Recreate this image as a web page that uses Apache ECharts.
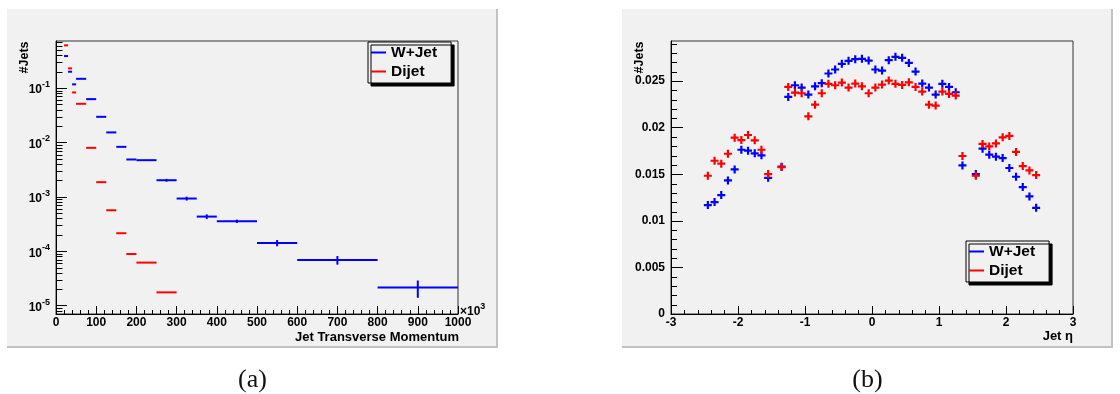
<!DOCTYPE html>
<html>
<head>
<meta charset="utf-8">
<script src="https://cdn.jsdelivr.net/npm/echarts@6/dist/echarts.min.js"></script>
<style>
html,body{margin:0;padding:0;background:#fff;}
#chart{width:1120px;height:394px;}
</style>
</head>
<body>
<div id="chart"></div>
<script>
// ---------- data ----------
const ptBinLow  = [20, 30, 40, 50, 75, 100, 125, 150, 175, 200, 250, 300, 350, 400, 500, 600, 800];
const ptBinHigh = [30, 40, 50, 75, 100, 125, 150, 175, 200, 250, 300, 350, 400, 500, 600, 800, 1000];
const wjetPt    = [0.388, 0.20, 0.117, 0.148, 0.0626, 0.0296, 0.0153, 0.0083, 0.00486, 0.00472, 0.00202,
                   0.00093, 0.000433, 0.000356, 0.000142, 0.000069, 0.0000214];
const wjetPtErr = [0, 0, 0, 0, 0, 0, 0, 0, 0, 0, 0.00012, 0.000075, 0.000043, 0.000025, 0.0000185, 0.0000125, 0.0000075];
const dijetPt    = [0.61, 0.23, 0.083, 0.0514, 0.00796, 0.00186, 0.000566, 0.000214, 0.0000887, 0.0000617, 0.0000175];
const dijetPtErr = [0, 0, 0, 0, 0, 0, 0, 0, 0, 0, 0];

const etaCenters = [-2.45,-2.35,-2.25,-2.15,-2.05,-1.95,-1.85,-1.75,-1.65,-1.55,
  -1.35,-1.25,-1.15,-1.05,-0.95,-0.85,-0.75,-0.65,-0.55,-0.45,-0.35,-0.25,-0.15,-0.05,
  0.05,0.15,0.25,0.35,0.45,0.55,0.65,0.75,0.85,0.95,1.05,1.15,1.25,1.35,
  1.55,1.65,1.75,1.85,1.95,2.05,2.15,2.25,2.35,2.45];
const wjetEta = [0.01169,0.01201,0.01276,0.01434,0.01552,0.01763,0.01753,0.01724,0.01703,0.01462,
  0.01581,0.0233,0.02455,0.0243,0.02355,0.02444,0.02477,0.02581,0.02624,0.02685,0.02717,0.02735,0.02739,0.0272,
  0.02624,0.02613,0.02724,0.0276,0.02749,0.02695,0.02602,0.02473,0.0243,0.02355,0.0247,0.02437,0.0238,0.01595,
  0.01502,0.01774,0.0171,0.01688,0.01674,0.01567,0.01473,0.01362,0.01262,0.0114];
const dijetEta = [0.01484,0.01645,0.01613,0.0172,0.01892,0.01867,0.01921,0.01864,0.01763,0.01502,
  0.01577,0.02437,0.02376,0.02369,0.02122,0.02247,0.02369,0.0247,0.02455,0.02484,0.0243,0.02473,0.02444,0.02369,
  0.0243,0.02462,0.02505,0.0247,0.02459,0.02487,0.02437,0.02387,0.02247,0.02237,0.02387,0.02362,0.02344,0.01696,
  0.01484,0.01825,0.01799,0.01831,0.01896,0.01911,0.01739,0.01588,0.01541,0.01491];

const seriesNames = ['W+Jet', 'Dijet'];
const ptTickValues = [0, 100, 200, 300, 400, 500, 600, 700, 800, 900, 1000];
const etaTickValues = [-3, -2, -1, 0, 1, 2, 3];

// ---------- style ----------
const FONT = '"Liberation Sans", Arial, Helvetica, sans-serif';
const BLUE = '#0000ff', RED = '#ff0000';
const PT_MIN = 7e-6, PT_MAX = 0.734;
const ETA_YMAX = 0.0293;

// log minor ticks (2..9 x 10^n)
const logMinor = [];
for (let n = -6; n <= 0; n++) for (let k = 2; k <= 9; k++) {
  const v = Number((k * Math.pow(10, n)).toPrecision(3));
  if (v > PT_MIN && v < PT_MAX) logMinor.push(v);
}
// linear minor ticks on right y axis
const etaYMinor = [];
for (let i = 1; i * 0.001 < ETA_YMAX; i++) if (i % 5 !== 0) etaYMinor.push(Number((i * 0.001).toFixed(3)));

function tickSeries(xi, yi, x0, values, len) {
  return {
    type: 'custom', xAxisIndex: xi, yAxisIndex: yi, silent: true, clip: false, z: 4,
    data: values.map(v => [x0, v]),
    renderItem: (p, api) => {
      const c = api.coord([api.value(0), api.value(1)]);
      const y = Math.round(c[1]) + 0.5;
      return { type: 'line', shape: { x1: c[0], y1: y, x2: c[0] + len, y2: y }, style: { stroke: '#000', lineWidth: 1 } };
    }
  };
}

function histSeries(name, color, vals, errs) {
  return {
    name, type: 'custom', xAxisIndex: 0, yAxisIndex: 0, clip: false, z: 3,
    itemStyle: { color },
    data: vals.map((v, i) => [ptBinLow[i], ptBinHigh[i], v, errs[i]]),
    encode: { x: [0, 1], y: 2 },
    renderItem: (p, api) => {
      const lo = api.value(0), hi = api.value(1), v = api.value(2), e = api.value(3);
      const a = api.coord([lo, v]), b = api.coord([hi, v]);
      const children = [{ type: 'line', shape: { x1: a[0], y1: a[1], x2: b[0], y2: b[1] }, style: { stroke: color, lineWidth: 2 } }];
      if (e > 0) {
        const c = (lo + hi) / 2;
        const t = api.coord([c, v + e]), d = api.coord([c, v - e]);
        children.push({ type: 'line', shape: { x1: t[0], y1: t[1], x2: d[0], y2: d[1] }, style: { stroke: color, lineWidth: 2 } });
      }
      return { type: 'group', children };
    }
  };
}

const PLUS = 'path://M0,2.9H2.9V0H5.1V2.9H8V5.1H5.1V8H2.9V5.1H0Z';
function etaSeries(name, color, vals) {
  return {
    name, type: 'scatter', xAxisIndex: 1, yAxisIndex: 1, z: 3,
    symbol: PLUS, symbolSize: 8, itemStyle: { color, opacity: 1 },
    data: etaCenters.map((x, i) => [x, vals[i]])
  };
}

const labelStyle = { fontFamily: FONT, fontWeight: 'bold', fontSize: 12, color: '#000' };
const axisCommon = {
  axisLine: { onZero: false, lineStyle: { color: '#000', width: 1 } },
  splitLine: { show: false }
};

const legendCommon = {
  orient: 'vertical', data: seriesNames, icon: 'rect', itemWidth: 15, itemHeight: 2, itemGap: 2,
  padding: [2, 14, 3, 3], backgroundColor: '#f1f1f1', borderColor: '#000', borderWidth: 1,
  shadowColor: '#000', shadowOffsetX: 3, shadowOffsetY: 3, shadowBlur: 0, selectedMode: false,
  textStyle: { fontFamily: FONT, fontWeight: 'bold', fontSize: 15.5, color: '#000', lineHeight: 17 }
};

const option = {
  animation: false,
  backgroundColor: '#fff',
  grid: [
    { left: 56, top: 41, width: 402, height: 273, show: true, borderColor: '#333', borderWidth: 1, backgroundColor: 'transparent' },
    { left: 671, top: 41, width: 402, height: 273, show: true, borderColor: '#333', borderWidth: 1, backgroundColor: 'transparent' }
  ],
  xAxis: [
    Object.assign({}, axisCommon, {
      gridIndex: 0, type: 'value', min: ptTickValues[0], max: ptTickValues[ptTickValues.length - 1], interval: 100,
      axisTick: { inside: true, length: 8, lineStyle: { color: '#000' } },
      minorTick: { show: true, splitNumber: 5, length: 4, lineStyle: { color: '#000' } },
      axisLabel: Object.assign({ margin: 3, formatter: v => String(v) }, labelStyle)
    }),
    Object.assign({}, axisCommon, {
      gridIndex: 1, type: 'value', min: etaTickValues[0], max: etaTickValues[etaTickValues.length - 1], interval: 1,
      axisTick: { inside: true, length: 8, lineStyle: { color: '#000' } },
      minorTick: { show: true, splitNumber: 5, length: 4, lineStyle: { color: '#000' } },
      axisLabel: Object.assign({ margin: 3, formatter: v => String(v) }, labelStyle)
    })
  ],
  yAxis: [
    Object.assign({}, axisCommon, {
      gridIndex: 0, type: 'log', logBase: 10, min: PT_MIN, max: PT_MAX,
      axisTick: { inside: true, length: 11, lineStyle: { color: '#000' } },
      minorTick: { show: false },
      axisLabel: {
        margin: 6, showMinLabel: false, showMaxLabel: false,
        formatter: v => '{b|10}{s|' + Math.round(Math.log10(v)) + '}',
        rich: {
          b: { fontFamily: FONT, fontWeight: 'bold', fontSize: 12, color: '#000', lineHeight: 16, verticalAlign: 'bottom' },
          s: { fontFamily: FONT, fontWeight: 'bold', fontSize: 9, color: '#000', lineHeight: 10, verticalAlign: 'top' }
        }
      }
    }),
    Object.assign({}, axisCommon, {
      gridIndex: 1, type: 'value', min: 0, max: ETA_YMAX, interval: 0.005,
      axisTick: { inside: true, length: 12, lineStyle: { color: '#000' } },
      minorTick: { show: false },
      axisLabel: Object.assign({
        margin: 6, showMaxLabel: false,
        formatter: v => v === 0 ? '0' : String(Number(v.toFixed(3)))
      }, labelStyle)
    })
  ],
  legend: [
    Object.assign({}, legendCommon, { left: 368, top: 42 }),
    Object.assign({}, legendCommon, { left: 966, top: 241 })
  ],
  series: [
    tickSeries(0, 0, 0, logMinor, 6.5),
    tickSeries(1, 1, -3, etaYMinor, 6),
    histSeries(seriesNames[0], BLUE, wjetPt, wjetPtErr),
    histSeries(seriesNames[1], RED, dijetPt, dijetPtErr),
    etaSeries(seriesNames[0], BLUE, wjetEta),
    etaSeries(seriesNames[1], RED, dijetEta)
  ],
  graphic: [
    { type: 'rect', z: -10, shape: { x: 7, y: 9, width: 491, height: 339 }, style: { fill: '#f1f1f1' } },
    { type: 'rect', z: -10, shape: { x: 622, y: 9, width: 491, height: 339 }, style: { fill: '#f1f1f1' } },
    { type: 'line', z: -9, shape: { x1: 7, y1: 347, x2: 498, y2: 347 }, style: { stroke: '#c2c2c2', lineWidth: 2 } },
    { type: 'line', z: -9, shape: { x1: 497, y1: 9, x2: 497, y2: 348 }, style: { stroke: '#c2c2c2', lineWidth: 2 } },
    { type: 'line', z: -9, shape: { x1: 622, y1: 347, x2: 1113, y2: 347 }, style: { stroke: '#c2c2c2', lineWidth: 2 } },
    { type: 'line', z: -9, shape: { x1: 1112, y1: 9, x2: 1112, y2: 348 }, style: { stroke: '#c2c2c2', lineWidth: 2 } },
    { type: 'text', z: 10, x: 24.5, y: 41.5, rotation: Math.PI / 2,
      style: { text: '#Jets', font: 'bold 12.5px ' + FONT, fill: '#000', align: 'right', verticalAlign: 'middle' } },
    { type: 'text', z: 10, x: 639.5, y: 41.5, rotation: Math.PI / 2,
      style: { text: '#Jets', font: 'bold 12.5px ' + FONT, fill: '#000', align: 'right', verticalAlign: 'middle' } },
    { type: 'text', z: 10, x: 459, y: 337,
      style: { text: 'Jet Transverse Momentum', font: 'bold 13px ' + FONT, fill: '#000', align: 'right', verticalAlign: 'middle' } },
    { type: 'text', z: 10, x: 1073, y: 336,
      style: { text: 'Jet η', font: 'bold 13px ' + FONT, fill: '#000', align: 'right', verticalAlign: 'middle' } },
    { type: 'text', z: 10, x: 460, y: 310,
      style: { text: '{a|×10}{s|3}', align: 'left', verticalAlign: 'middle',
        rich: {
          a: { fontFamily: FONT, fontWeight: 'bold', fontSize: 12, fill: '#000', lineHeight: 16, verticalAlign: 'bottom' },
          s: { fontFamily: FONT, fontWeight: 'bold', fontSize: 9, fill: '#000', lineHeight: 10, verticalAlign: 'top' }
        } } },
    { type: 'text', z: 10, x: 252.5, y: 380,
      style: { text: '(a)', font: '26px "Liberation Serif", "Times New Roman", serif', fill: '#111', align: 'center', verticalAlign: 'middle' } },
    { type: 'text', z: 10, x: 867.5, y: 380,
      style: { text: '(b)', font: '26px "Liberation Serif", "Times New Roman", serif', fill: '#111', align: 'center', verticalAlign: 'middle' } }
  ]
};

const chart = echarts.init(document.getElementById('chart'), null, { renderer: 'canvas' });
chart.setOption(option);
</script>
</body>
</html>
